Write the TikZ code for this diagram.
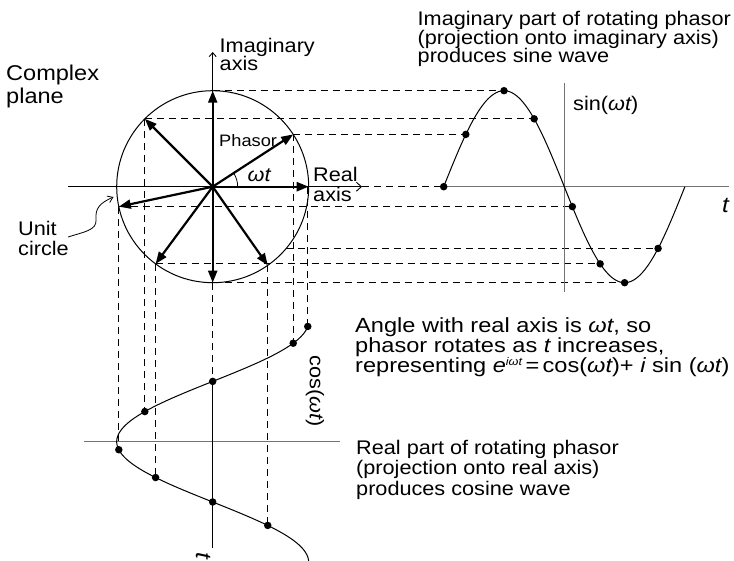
\documentclass[tikz,border=0pt]{standalone}
\usepackage{fontspec}
\setmainfont{Liberation Sans}[FakeStretch=1.1]
\newfontfamily\widefont{Liberation Sans}[FakeStretch=1.15]
\usetikzlibrary{arrows.meta,calc}
\begin{document}
\begin{tikzpicture}[x=1pt,y=-1pt,
  txt/.style={inner sep=0pt, anchor=base west, font=\fontsize{19.7}{19.7}\selectfont},
  big/.style={txt, font=\fontsize{21.4}{21.4}\selectfont},
  para/.style={txt, font=\widefont\fontsize{20.5}{20.5}\selectfont},
  small/.style={txt, font=\fontsize{16.6}{16.6}\selectfont},
  dsh/.style={dash pattern=on 7pt off 5pt, line width=0.9pt},
  phasor/.style={line width=2.2pt, -{Triangle[length=12pt,width=9pt]}},
  dot/.style={circle, fill=black, inner sep=0pt, minimum size=7.5pt},
  gax/.style={draw=black!55, line width=1pt},
  ax/.style={line width=0.9pt},
  barb/.style={-{Straight Barb[length=5pt,width=9pt]}}
]
\useasboundingbox (0,0) rectangle (734,561);

% key points
\coordinate (C) at (212.7,186.7);
\foreach \a/\n in {0/0,33/33,90/90,135/135,192/192,233.5/233,270/270,305/305,320/320}
  \coordinate (p\n) at ($(C)+(\a:96pt)$);
\foreach \a/\n in {0/0,33/33,90/90,135/135,192/192,233.5/233,270/270,320/320}
  \coordinate (s\n) at ({443.7+0.67*\a},{186.7-96*sin(\a)});
\foreach \a/\n in {8/0,33/33,90/90,135/135,192/192,233.5/233,270/270,305/305}
  \coordinate (c\n) at ({212.7+96*cos(\a)},{321.1+0.67*\a});
\coordinate (rs) at (68,186.7);
\coordinate (re) at (362,186.7);
\coordinate (imtop) at (212.7,52);
\coordinate (tend) at (212.7,548);
\coordinate (sxe) at (729,186.7);
\coordinate (syt) at (564.3,83);
\coordinate (syb) at (564.3,291.7);
\coordinate (cxl) at (84,441.7);
\coordinate (cxr) at (340,441.7);
\coordinate (uc1) at (68,237);
\coordinate (uc2) at (96,220);
\coordinate (uc3) at (113.5,197);

% dashed projections
\draw[dsh] (p90) -- (s90);
\draw[dsh] (p135) -- (s135);
\draw[dsh] (p33) -- (s33);
\draw[dsh] (re) -- (s0);
\draw[dsh] (p192) -- (s192);
\draw[dsh] (p320) -- (s320);
\draw[dsh] (p233) -- (s233);
\draw[dsh] (p270) -- (s270);
\draw[dsh] (c0 |- C) -- (c0);
\draw[dsh] (p33) -- (c33);
\draw[dsh] (p135) -- (c135);
\draw[dsh] (p192) -- (c192);
\draw[dsh] (p233) -- (c233);
\draw[dsh] (p305) -- (c305);
\draw[dsh] (p270) -- (c90);

% graph axes
\draw[gax] (s0) -- (sxe);
\draw[gax] (syt) -- (syb);
\draw[gax] (cxl) -- (cxr);
\draw[ax] (c90) -- (tend);

% complex plane axes and circle
\draw[ax, barb] (rs) -- (re);
\draw[ax, -{Straight Barb[length=4pt,width=7pt]}] (p270) -- (imtop);
\draw[line width=1pt] (C) circle[radius=96pt];
\draw[line width=0.8pt] ($(C)+(0:25pt)$) arc[start angle=0,end angle=33,radius=25pt];

% phasors
\foreach \n in {0,33,90,135,192,233,270,305}
  \draw[phasor] (C) -- (p\n);

% unit circle pointer
\draw[line width=0.8pt, -{Straight Barb[length=5pt,width=7pt]}]
  (uc1) .. controls (84,232) and (97,230) .. (uc2) .. controls (95,208) and (100,203) .. (uc3);

% waves
\draw[line width=1pt] plot[domain=0:360,samples=120] ({443.7+0.67*\x},{186.7-96*sin(\x)});
\draw[line width=1pt] plot[domain=8:358,samples=120] ({212.7+96*cos(\x)},{321.1+0.67*\x});

% dots
\foreach \n in {0,33,90,135,192,233,270,320}
  \node[dot] (ds\n) at (s\n) {};
\foreach \n in {0,33,90,135,192,233,270,305}
  \node[dot] (dc\n) at (c\n) {};

% labels
\node[big] (cp1) at (6,80.7) {Complex};
\node[big] (cp2) at (6,103.3) {plane};
\node[txt] (ia1) at (219.5,53) {Imaginary};
\node[txt] (ia2) at (219.5,71) {axis};
\node[small] (ph) at (219,147) {Phasor};
\node[txt] (wt) at (247.5,182) {\itshape ωt};
\node[txt] (ra1) at (313,182) {Real};
\node[txt] (ra2) at (313,202) {axis};
\node[txt] (uc1t) at (18,235.5) {Unit};
\node[txt] (uc2t) at (18,255.5) {circle};
\node[txt] (ti1) at (417.5,25.7) {Imaginary part of rotating phasor};
\node[txt] (ti2) at (417.5,44.3) {(projection onto imaginary axis)};
\node[txt] (ti3) at (417.5,62.5) {produces sine wave};
\node[txt] (sinl) at (573,110.5) {sin({\itshape ωt})};
\node[txt, font=\fontsize{22}{22}\selectfont\itshape] (tr) at (722,213) {t};
\node[para] (an1) at (355,333) {Angle with real axis is {\itshape ωt}, so};
\node[para] (an2) at (355,352.5) {phasor rotates as {\itshape t} increases,};
\node[para] (an3) at (355,372.5) {representing {\itshape e}\raisebox{0.36em}{\fontsize{11}{11}\selectfont\itshape iωt}\,=\,cos({\itshape ωt})+ {\itshape i} sin ({\itshape ωt})};
\node[txt] (rp1) at (356,454) {Real part of rotating phasor};
\node[txt] (rp2) at (356,474.5) {(projection onto real axis)};
\node[txt] (rp3) at (356,495) {produces cosine wave};
\node[inner sep=0pt, rotate=-90, font=\fontsize{19.7}{19.7}\selectfont] (cosl) at (315,391) {cos({\itshape ωt})};
\node[inner sep=0pt, rotate=-90, font=\fontsize{22}{22}\selectfont\itshape] (tb) at (204,556) {t};
\end{tikzpicture}
\end{document}
